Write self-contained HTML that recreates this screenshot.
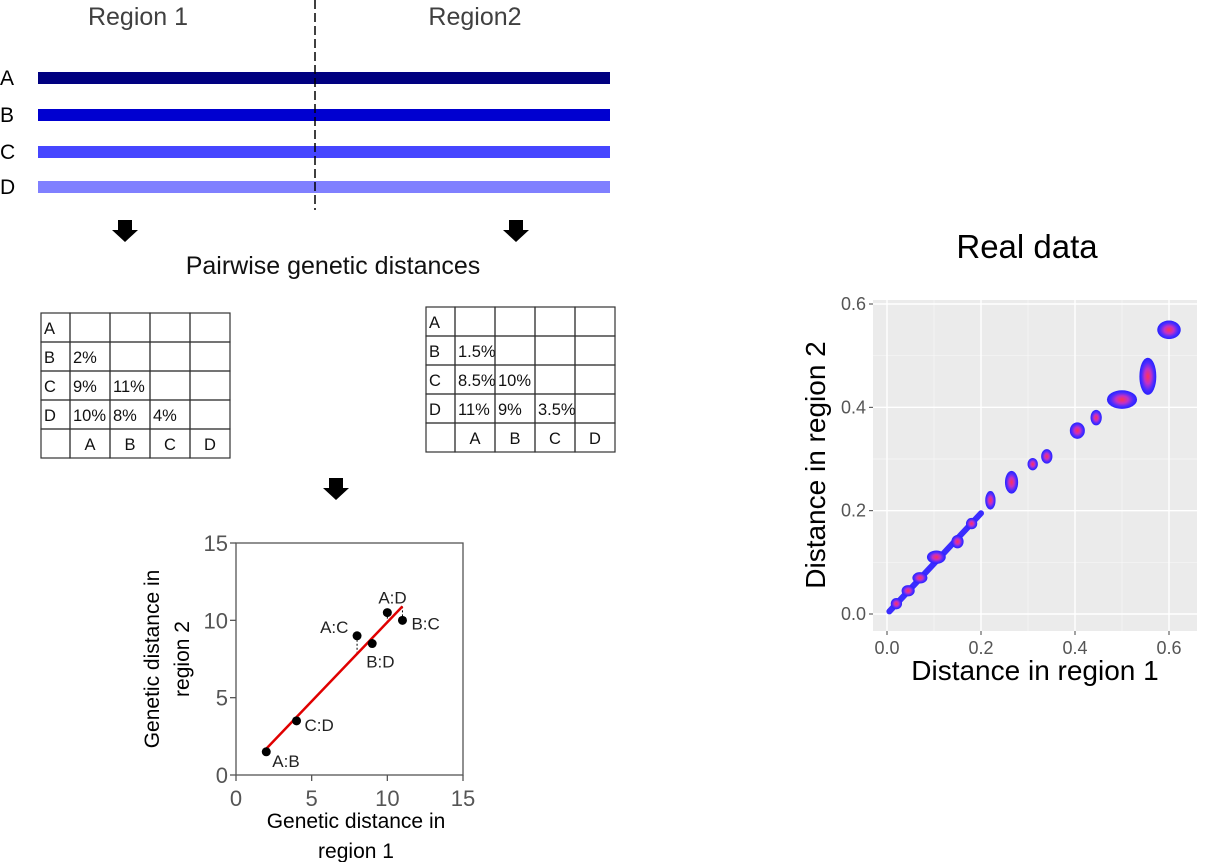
<!DOCTYPE html>
<html><head><meta charset="utf-8"><style>
html,body{margin:0;padding:0;background:#fff;}
svg{display:block;font-family:"Liberation Sans",sans-serif;}
</style></head><body>
<svg id="fig" width="1229" height="862" viewBox="0 0 1229 862">
<defs>
<radialGradient id="blob" cx="50%" cy="50%" r="50%">
<stop offset="0" stop-color="#ff3355"/><stop offset="0.4" stop-color="#c030c8"/><stop offset="0.75" stop-color="#4a2cff"/><stop offset="1" stop-color="#2a20ff"/>
</radialGradient>
</defs>
<g fill="#404040" font-size="25">
<text x="138" y="25" text-anchor="middle">Region 1</text>
<text x="475" y="25" text-anchor="middle">Region2</text>
</g>
<g id="seqs"></g>
<line x1="315" y1="0" x2="315" y2="210" stroke="#000" stroke-width="1.5" stroke-dasharray="9,4"/>
<g fill="#000">
<polygon points="118,220 132,220 132,230 138,230 125,242 112,230 118,230"/>
<polygon points="509,220 523,220 523,230 529,230 516,242 503,230 509,230"/>
<polygon points="329,478 343,478 343,488 349,488 336,500 323,488 329,488"/>
</g>
<text x="333" y="274" text-anchor="middle" font-size="25" fill="#111">Pairwise genetic distances</text>
<g id="tables"></g>
<g id="small"></g>
<text x="1027" y="258" text-anchor="middle" font-size="33" fill="#000">Real data</text>
<g id="big"></g>
</svg>
<script>
const NS="http://www.w3.org/2000/svg";
function mk(tag,attrs,parent,text){const e=document.createElementNS(NS,tag);for(const k in attrs)e.setAttribute(k,attrs[k]);if(text!==undefined)e.textContent=text;parent.appendChild(e);return e;}

// sequences
const seqNames=["A","B","C","D"];
const seqColors=["#000080","#0000d0","#4646ff","#8080ff"];
const seqY=[78,115,152,187];
const sg=document.getElementById('seqs');
seqNames.forEach((n,i)=>{
  const r=mk('rect',{x:38,y:seqY[i]-6,width:572,height:12,fill:seqColors[i]},sg);
  
  
  const t=mk('text',{x:0,y:seqY[i]+7,'font-size':21,fill:'#000'},sg,n);
  
  
});

// tables
const tbl1=[["A","","","",""],["B","2%","","",""],["C","9%","11%","",""],["D","10%","8%","4%",""],["","A","B","C","D"]];
const tbl2=[["A","","","",""],["B","1.5%","","",""],["C","8.5%","10%","",""],["D","11%","9%","3.5%",""],["","A","B","C","D"]];
function drawTable(data,x0,y0,name){
  const tg=document.getElementById('tables');
  const g=mk('g',{},tg);
  
  
  const cw=[29,40,40,40,40],rh=29;
  let xs=[x0];cw.forEach(w=>xs.push(xs[xs.length-1]+w));
  for(let r=0;r<5;r++)for(let c=0;c<5;c++){
    const rc=mk('rect',{x:xs[c],y:y0+r*rh,width:cw[c],height:rh,fill:'none',stroke:'#333','stroke-width':1.2},g);
    
    
    const v=data[r][c];
    if(v){const mid=(r===4);
      const t=mk('text',{x:mid?xs[c]+cw[c]/2:xs[c]+3,y:y0+r*rh+21,'font-size':16.5,fill:'#111','text-anchor':mid?'middle':'start'},g,v);
      
      }
  }
}
drawTable(tbl1,41,313,'region-1-table');
drawTable(tbl2,426,307,'region-2-table');

// small scatter
const pairLabels=["A:B","C:D","A:C","B:D","A:D","B:C"];
const dist1=[2,4,8,9,10,11];
const dist2=[1.5,3.5,9,8.5,10.5,10];
const smallTicks=[0,5,10,15];
const fitLine=[[2,1.7],[11,10.9]];
const sx=v=>236+v*(463-236)/15, sy=v=>775-v*(775-543)/15;
const sm=document.getElementById('small');
const box=mk('rect',{x:236,y:543,width:227,height:232,fill:'none',stroke:'#555','stroke-width':1.3},sm);


smallTicks.forEach(t=>{
  mk('line',{x1:sx(t),y1:775,x2:sx(t),y2:781,stroke:'#555','stroke-width':1.3},sm);
  mk('line',{x1:230,y1:sy(t),x2:236,y2:sy(t),stroke:'#555','stroke-width':1.3},sm);
  const a=mk('text',{x:sx(t),y:806,'font-size':22,fill:'#555','text-anchor':'middle'},sm,t);
  
  
  const b=mk('text',{x:228,y:sy(t)+8,'font-size':22,fill:'#555','text-anchor':'end'},sm,t);
  
  
});
const slope=(fitLine[1][1]-fitLine[0][1])/(fitLine[1][0]-fitLine[0][0]);
dist1.forEach((x,i)=>{
  const fy=fitLine[0][1]+slope*(x-fitLine[0][0]);
  mk('line',{x1:sx(x),y1:sy(dist2[i]),x2:sx(x),y2:sy(fy),stroke:'#000','stroke-width':1,'stroke-dasharray':'2,2'},sm);
});
const fl=mk('line',{x1:sx(fitLine[0][0]),y1:sy(fitLine[0][1]),x2:sx(fitLine[1][0]),y2:sy(fitLine[1][1]),stroke:'#e00000','stroke-width':2.5},sm);


const lblOff=[[6,15],[8,10],[-37,-3],[-6,24],[-9,-9],[9,9]];
dist1.forEach((x,i)=>{
  const c=mk('circle',{cx:sx(x),cy:sy(dist2[i]),r:4.5,fill:'#000'},sm);
  
  
  const t=mk('text',{x:sx(x)+lblOff[i][0],y:sy(dist2[i])+lblOff[i][1],'font-size':17,fill:'#222'},sm,pairLabels[i]);
  
  
});
const sxt=mk('text',{x:356,y:828,'font-size':21,fill:'#000','text-anchor':'middle'},sm,'Genetic distance in');


mk('text',{x:356,y:858,'font-size':21,fill:'#000','text-anchor':'middle'},sm,'region 1');
const syt=mk('text',{transform:'translate(159,659) rotate(-90)','font-size':21,fill:'#000','text-anchor':'middle'},sm);


mk('tspan',{x:0,y:0},syt,'Genetic distance in');
mk('tspan',{x:0,y:30},syt,'region 2');

// real data scatter
const bigTicks=[0,0.2,0.4,0.6];
const bigTickLabels=["0.0","0.2","0.4","0.6"];
const clusterX=[0.60,0.555,0.50,0.445,0.405,0.34,0.31,0.265,0.22,0.18,0.15,0.105,0.07,0.045,0.02];
const clusterY=[0.55,0.46,0.415,0.38,0.355,0.305,0.29,0.255,0.22,0.175,0.14,0.11,0.07,0.045,0.02];
const clusterSX=[0.025,0.018,0.032,0.012,0.016,0.012,0.011,0.014,0.011,0.012,0.013,0.02,0.016,0.014,0.012];
const clusterSY=[0.018,0.036,0.018,0.015,0.016,0.014,0.012,0.022,0.018,0.011,0.013,0.013,0.011,0.011,0.011];
const bandStart=[0.005,0.005], bandEnd=[0.2,0.195];
const X0=887,X1=1169,Y0=614,Y1=304;
const bx=v=>X0+v*(X1-X0)/0.6, by=v=>Y0-v*(Y0-Y1)/0.6;
const bg=document.getElementById('big');
const panel=mk('rect',{x:873,y:300,width:324,height:331,fill:'#ebebeb'},bg);


[0.1,0.3,0.5].forEach(t=>{
  mk('line',{x1:bx(t),y1:300,x2:bx(t),y2:631,stroke:'#f7f7f7','stroke-width':0.7},bg);
  mk('line',{x1:873,y1:by(t),x2:1197,y2:by(t),stroke:'#f7f7f7','stroke-width':0.7},bg);
});
bigTicks.forEach((t,i)=>{
  const gx=mk('line',{x1:bx(t),y1:300,x2:bx(t),y2:631,stroke:'#fff','stroke-width':1.4},bg);
  
  
  const gy=mk('line',{x1:873,y1:by(t),x2:1197,y2:by(t),stroke:'#fff','stroke-width':1.4},bg);
  
  
  mk('line',{x1:bx(t),y1:631,x2:bx(t),y2:635,stroke:'#444'},bg);
  mk('line',{x1:869,y1:by(t),x2:873,y2:by(t),stroke:'#444'},bg);
  const a=mk('text',{x:bx(t),y:654,'font-size':18,fill:'#555','text-anchor':'middle'},bg,bigTickLabels[i]);
  
  
  const b=mk('text',{x:866,y:by(t)+6,'font-size':18,fill:'#555','text-anchor':'end'},bg,bigTickLabels[i]);
  
  
});
const band=mk('line',{x1:bx(bandStart[0]),y1:by(bandStart[1]),x2:bx(bandEnd[0]),y2:by(bandEnd[1]),stroke:'#3a2cff','stroke-width':6,'stroke-linecap':'round'},bg);


clusterX.forEach((x,i)=>{
  const e=mk('ellipse',{cx:bx(x),cy:by(clusterY[i]),rx:clusterSX[i]*(X1-X0)/0.6,ry:clusterSY[i]*(Y0-Y1)/0.6,fill:'url(#blob)'},bg);
  
  
});
const bxt=mk('text',{x:1035,y:680,'font-size':28,fill:'#000','text-anchor':'middle'},bg,'Distance in region 1');


const byt=mk('text',{transform:'translate(825,465) rotate(-90)','font-size':28,fill:'#000','text-anchor':'middle'},bg,'Distance in region 2');


</script>
</body></html>
